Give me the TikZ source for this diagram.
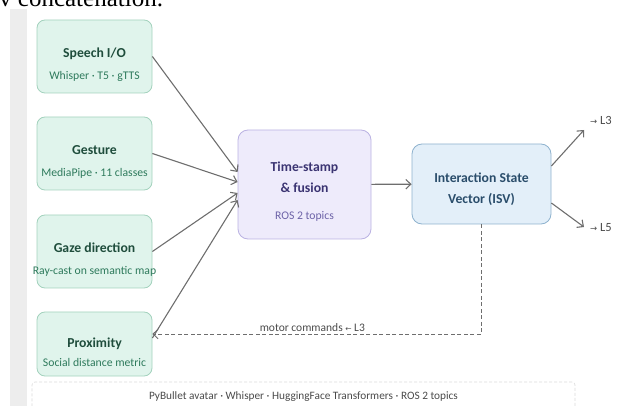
\documentclass[tikz,border=0pt]{standalone}
\usepackage{fontspec}
\setmainfont{Carlito}
\newfontfamily\pageserif{Liberation Serif}
\newfontfamily\arrowsym{DejaVu Sans}
\usetikzlibrary{arrows.meta}

\definecolor{bandgray}{HTML}{EDEDED}
\definecolor{infill}{HTML}{E0F4EC}
\definecolor{inedge}{HTML}{A3D2BD}
\definecolor{intitle}{HTML}{1F4D3C}
\definecolor{insub}{HTML}{2E7A5C}
\definecolor{fusfill}{HTML}{EEEBFB}
\definecolor{fusedge}{HTML}{BAB2E2}
\definecolor{fustitle}{HTML}{3B3472}
\definecolor{fussub}{HTML}{6D63A8}
\definecolor{isvfill}{HTML}{E3EFF9}
\definecolor{isvedge}{HTML}{8EB2CE}
\definecolor{isvtext}{HTML}{2A4D6B}
\definecolor{flowgray}{HTML}{6E6E6E}
\definecolor{notegray}{HTML}{4A4A4A}
\definecolor{framegray}{HTML}{DADADA}

\newcommand{\boxtext}[2]{\raisebox{-#1}[\height][\depth]{\begin{tabular}{@{}c@{}}#2\end{tabular}}}
\newcommand{\subline}[2]{{\fontsize{11.7}{14}\selectfont\mdseries\color{#1}#2}}

\tikzset{
  inbox/.style={draw=inedge, fill=infill, line width=0.8pt, rounded corners=8pt,
    minimum width=115pt, minimum height=73pt, inner sep=0pt, text=intitle,
    font=\fontsize{13.7}{16}\selectfont\bfseries},
  fusbox/.style={inbox, draw=fusedge, fill=fusfill, text=fustitle,
    rounded corners=10pt, minimum width=133pt, minimum height=109pt},
  isvbox/.style={inbox, draw=isvedge, fill=isvfill, text=isvtext,
    rounded corners=10pt, minimum width=139pt, minimum height=80pt},
  flow/.style={color=flowgray, line width=1.1pt, -{Straight Barb[length=5pt,width=9.5pt]}},
  feedback/.style={flow, line width=0.9pt, dash pattern=on 4pt off 2.5pt},
  note/.style={text=notegray, font=\fontsize{11.5}{14}\selectfont, inner sep=2pt},
}

\begin{document}
\begin{tikzpicture}[x=1pt, y=-1pt]
  \useasboundingbox (0,0) rectangle (627,406);
  \fill[bandgray] (10,9) rectangle (27,406);
  \begin{scope}
    \clip (0,0) rectangle (627,406);
    \node[anchor=base west, inner sep=0pt, font=\pageserif\fontsize{25}{30}\selectfont]
      (pageline) at (-1,7) {v concatenation.};
  \end{scope}

  % input channels
  \node[inbox] (speech) at (94.5,56.5)
    {\boxtext{9pt}{Speech I/O\\[6pt]\subline{insub}{Whisper · T5 · gTTS}}};
  \node[inbox] (gesture) at (94.5,153.5)
    {\boxtext{9pt}{Gesture\\[6pt]\subline{insub}{MediaPipe · 11 classes}}};
  \node[inbox] (gaze) at (94.5,251.5)
    {\boxtext{9pt}{Gaze direction\\[6pt]\subline{insub}{\makebox[110pt]{Ray-cast on semantic map}}}};
  \node[inbox, minimum height=64pt] (prox) at (94.5,344)
    {\boxtext{9.8pt}{Proximity\\[4pt]\subline{insub}{Social distance metric}}};

  \node[fusbox] (fusion) at (304.5,184.5)
    {\boxtext{8.3pt}{Time-stamp\\[5pt]\& fusion\\[11pt]\subline{fussub}{ROS 2 topics}}};
  \node[isvbox] (isv) at (481.5,184)
    {\boxtext{6.3pt}{Interaction State\\[5pt]Vector (ISV)}};

  \coordinate (l3end) at (584,130);
  \coordinate (l5end) at (584,227);
  \node[note, font=\fontsize{12.5}{14}\selectfont] (l3) at (601,120)
    {{\arrowsym\fontsize{8.5}{9}\selectfont →} L3};
  \node[note, font=\fontsize{12.5}{14}\selectfont] (l5) at (601,228)
    {{\arrowsym\fontsize{8.5}{9}\selectfont →} L5};

  \path[flow]
    (speech.east) edge ([yshift=12.5pt]fusion.west)
    (gesture.east) edge ([yshift=2.5pt]fusion.west)
    (gaze.east) edge ([yshift=-8.5pt]fusion.west)
    ([yshift=6pt]prox.east) edge ([yshift=-15.5pt]fusion.west);
  \path[flow] (fusion) edge (isv);
  \path[flow]
    ([yshift=18pt]isv.east) edge (l3end)
    ([yshift=-19pt]isv.east) edge (l5end);

  % feedback to the avatar
  \draw[feedback] (isv.south) |- node[note, above, pos=0.757] (motor)
    {motor commands {\arrowsym\fontsize{7.5}{8}\selectfont ←} L3} ([yshift=10pt]prox.east);

  \node[note, draw=framegray, dash pattern=on 3pt off 2pt, line width=0.6pt,
    rounded corners=3pt, minimum width=543pt, minimum height=30pt,
    font=\fontsize{11.3}{13}\selectfont] (tools) at (303.5,397)
    {PyBullet avatar · Whisper · HuggingFace Transformers · ROS 2 topics};
\end{tikzpicture}
\end{document}
